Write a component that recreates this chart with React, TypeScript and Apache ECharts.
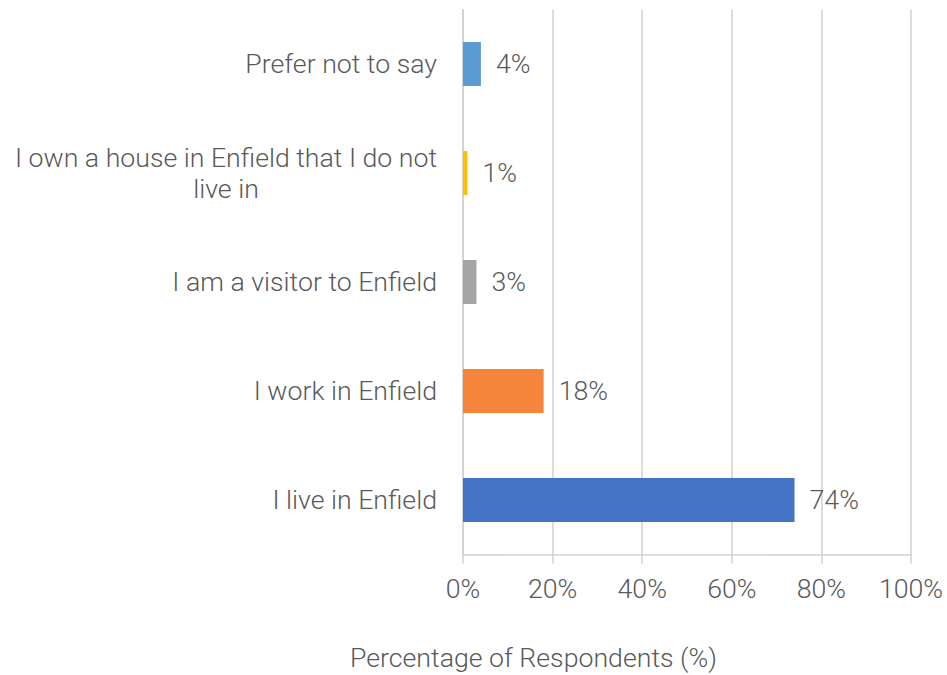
import React, { useEffect, useRef } from "react";
import * as echarts from "echarts";

const categories = [
  "I live in Enfield",
  "I work in Enfield",
  "I am a visitor to Enfield",
  "I own a house in Enfield that I do not live in",
  "Prefer not to say",
];
const values = [74, 18, 3, 1, 4];
const colors = ["#4472C4", "#F5853A", "#A5A5A5", "#FFC000", "#5B9BD5"];
const xTicks = [0, 20, 40, 60, 80, 100];
const axisTitle = "Percentage of Respondents (%)";
const wrapChars = 38;

function wrapLabel(s: string): string {
  if (s.length <= wrapChars) return s;
  const words = s.split(" ");
  const lines: string[] = [];
  let cur = "";
  for (const w of words) {
    const next = cur ? cur + " " + w : w;
    if (next.length > wrapChars && cur) {
      lines.push(cur);
      cur = w;
    } else cur = next;
  }
  if (cur) lines.push(cur);
  return lines.map((l) => "{c|" + l + "}").join("\n");
}

export default function App() {
  const ref = useRef<HTMLDivElement>(null);
  useEffect(() => {
    if (!ref.current) return;
    const chart = echarts.init(ref.current, undefined, { renderer: "svg" });
    const font = "Roboto";
    const fs = 26.7;
    chart.setOption({
      animation: false,
      textStyle: { fontFamily: font, fontWeight: 300 },
      title: {
        text: axisTitle,
        left: 350,
        top: 644,
        padding: 0,
        textStyle: { fontFamily: font, fontWeight: 300, fontSize: fs, color: "#595959" },
      },
      grid: { left: 463, right: 36, top: 9.5, bottom: 120.5, containLabel: false },
      xAxis: {
        type: "value",
        min: xTicks[0],
        max: xTicks[xTicks.length - 1],
        interval: 20,
        axisLine: { show: true, lineStyle: { color: "#D0D0D0", width: 1.5 } },
        axisTick: { show: true, length: 9, lineStyle: { color: "#D0D0D0", width: 1.5 } },
        splitLine: { show: true, lineStyle: { color: "#D0D0D0", width: 1.5 } },
        axisLabel: {
          formatter: "{value}%",
          fontFamily: font,
          fontWeight: 300,
          fontSize: fs,
          color: "#595959",
          margin: 21,
        },
      },
      yAxis: {
        type: "category",
        data: categories,
        axisLine: { show: true, lineStyle: { color: "#D0D0D0", width: 1.5 } },
        axisTick: { show: false },
        axisLabel: {
          fontFamily: font,
          fontWeight: 300,
          fontSize: fs,
          color: "#595959",
          margin: 26,
          lineHeight: 31,
          align: "right",
          formatter: (v: string) => wrapLabel(v),
          rich: {
            c: {
              fontFamily: font,
              fontWeight: 300,
              fontSize: fs,
              color: "#595959",
              lineHeight: 31,
              width: 422,
              align: "center",
            },
          },
        },
      },
      series: [
        {
          type: "bar",
          data: values.map((v, i) => ({ value: v, itemStyle: { color: colors[i] } })),
          barWidth: 44,
          label: {
            show: true,
            position: "right",
            distance: 15,
            formatter: "{c}%",
            fontFamily: font,
            fontWeight: 300,
            fontSize: fs,
            color: "#595959",
          },
        },
      ],
    });
    return () => chart.dispose();
  }, []);
  return <div ref={ref} style={{ width: 947, height: 675, position: "absolute", left: 0, top: 0 }} />;
}
